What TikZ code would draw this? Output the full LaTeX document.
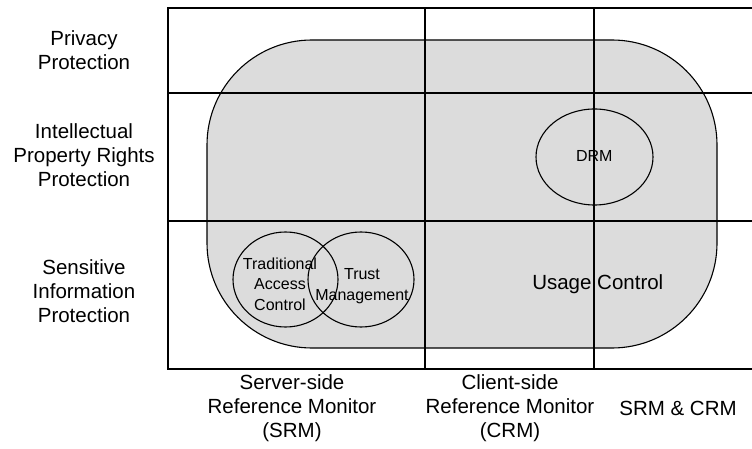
\documentclass[tikz,border=0pt]{standalone}
\usepackage{fontspec}
\setmainfont{Liberation Sans}
\usetikzlibrary{shapes.geometric}
\definecolor{ucgray}{RGB}{220,220,220}
\begin{document}
\begin{tikzpicture}[x=1bp,y=-1bp,
  gridline/.style={line width=1.1bp,black},
  bigtext/.style={align=center,inner sep=0pt,font=\fontsize{20.5bp}{24bp}\selectfont},
  smalltext/.style={align=center,inner sep=0pt,font=\fontsize{16bp}{20.5bp}\selectfont},
  region/.style={draw=black,line width=1.1bp,fill=ucgray,rounded corners=105bp,inner sep=0pt,minimum width=510bp,minimum height=308bp},
  oval/.style={draw=black,line width=1.1bp,ellipse,inner sep=0pt}]
\useasboundingbox (0,0) rectangle (752,449);
% usage control region
\node[region] (uc) at (462,194) {};
% circles
\node[oval,minimum width=105bp,minimum height=95bp] (tacc) at (285.5,279.5) {};
\node[oval,minimum width=106bp,minimum height=95bp] (tmc) at (361,279.5) {};
\node[oval,minimum width=117bp,minimum height=96bp] (drmc) at (594.5,157) {};
% texts inside
\node[smalltext] (tac) at (280,284) {Traditional\\Access\\Control};
\node[smalltext] (tm) at (362,286) {Trust\\Management};
\node[smalltext] (drm) at (594.3,156) {DRM};
\node[bigtext] (ucl) at (597.8,284.5) {Usage Control};
% row labels
\node[bigtext] (r1) at (84,50) {Privacy\\Protection};
\node[bigtext] (r2) at (84,155.5) {Intellectual\\Property Rights\\Protection};
\node[bigtext] (r3) at (84,291) {Sensitive\\Information\\Protection};
% column labels
\node[bigtext] (c1) at (292,408) {Server-side\\Reference Monitor\\(SRM)};
\node[bigtext] (c2) at (510,408) {Client-side\\Reference Monitor\\(CRM)};
\node[bigtext] (c3) at (678,408) {SRM \& CRM};
% grid
\coordinate (tl) at (168,8);
\coordinate (bl) at (168,369);
\coordinate (tr) at (753,8);
\coordinate (br) at (753,369);
\coordinate (h1l) at (168,93);
\coordinate (h1r) at (753,93);
\coordinate (h2l) at (168,221);
\coordinate (h2r) at (753,221);
\coordinate (v1t) at (425,8);
\coordinate (v1b) at (425,369);
\coordinate (v2t) at (594,8);
\coordinate (v2b) at (594,369);
\draw[gridline] (tr) -- (tl) -- (bl) -- (br);
\draw[gridline] (h1l) -- (h1r);
\draw[gridline] (h2l) -- (h2r);
\draw[gridline] (v1t) -- (v1b);
\draw[gridline] (v2t) -- (v2b);
\end{tikzpicture}
\end{document}
